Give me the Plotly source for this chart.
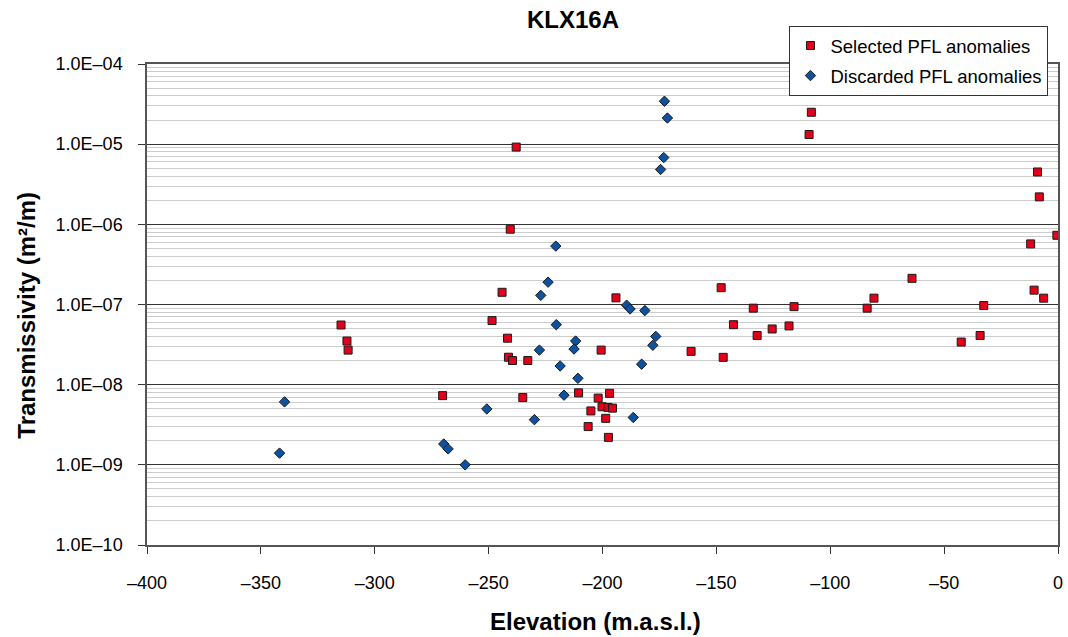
import plotly.graph_objects as go

# ---- data ----
sel_elev = [-314.8, -312.2, -311.7, -270.2, -244.1, -248.5, -241.7, -241.3, -239.5, -232.8,
            -237.9, -240.5, -194.1, -200.6, -161.1, -235.0, -210.5, -196.9, -201.9, -200.2,
            -197.6, -195.6, -205.1, -198.6, -206.3, -197.4, -108.3, -109.3, -9.0, -8.2,
            -0.5, -12.0, -64.1, -147.9, -10.5, -80.8, -6.3, -133.8, -115.9, -83.8,
            -32.6, -142.5, -118.1, -125.5, -132.1, -34.2, -42.5, -147.0]
sel_T = [5.55e-8, 3.5e-8, 2.7e-8, 7.3e-9, 1.42e-7, 6.3e-8, 3.8e-8, 2.2e-8, 2.0e-8, 2.0e-8,
         9.2e-6, 8.7e-7, 1.21e-7, 2.7e-8, 2.6e-8, 6.9e-9, 7.9e-9, 7.8e-9, 6.8e-9, 5.3e-9,
         5.2e-9, 5.1e-9, 4.7e-9, 3.8e-9, 3.0e-9, 2.2e-9, 2.5e-5, 1.32e-5, 4.5e-6, 2.2e-6,
         7.3e-7, 5.7e-7, 2.12e-7, 1.62e-7, 1.51e-7, 1.2e-7, 1.2e-7, 9.0e-8, 9.4e-8, 9.0e-8,
         9.7e-8, 5.6e-8, 5.4e-8, 4.95e-8, 4.1e-8, 4.1e-8, 3.4e-8, 2.19e-8]

dis_elev = [-339.6, -341.8, -269.7, -267.8, -260.3, -220.5, -223.9, -227.1, -189.4, -187.9,
            -181.4, -220.3, -176.6, -211.8, -177.9, -212.5, -227.7, -218.6, -182.8, -210.8,
            -216.9, -250.8, -186.5, -229.9, -172.8, -171.5, -173.1, -174.5]
dis_T = [6.1e-9, 1.40e-9, 1.82e-9, 1.58e-9, 1.0e-9, 5.35e-7, 1.9e-7, 1.3e-7, 9.8e-8, 8.8e-8,
         8.4e-8, 5.6e-8, 4.0e-8, 3.5e-8, 3.1e-8, 2.78e-8, 2.7e-8, 1.71e-8, 1.8e-8, 1.2e-8,
         7.4e-9, 4.98e-9, 3.9e-9, 3.66e-9, 3.43e-5, 2.12e-5, 6.8e-6, 4.83e-6]

x_tickvals = [-400, -350, -300, -250, -200, -150, -100, -50, 0]
x_ticktext = ["\u2013400", "\u2013350", "\u2013300", "\u2013250", "\u2013200",
              "\u2013150", "\u2013100", "\u201350", "0"]
y_tickvals = [1e-10, 1e-9, 1e-8, 1e-7, 1e-6, 1e-5, 1e-4]
y_ticktext = ["1.0E\u201310", "1.0E\u201309", "1.0E\u201308", "1.0E\u201307",
              "1.0E\u201306", "1.0E\u201305", "1.0E\u201304"]
minor_vals = [m * d for d in y_tickvals[:-1] for m in range(2, 10)]

FONT = "Liberation Sans, Arial, sans-serif"

fig = go.Figure()
fig.add_trace(go.Scatter(
    x=sel_elev, y=sel_T, mode="markers", name="Selected PFL anomalies",
    legendgroup="a",
    marker=dict(symbol="square", size=8, color="#e2001a",
                line=dict(color="#1a1a1a", width=1)),
))
fig.add_trace(go.Scatter(
    x=dis_elev, y=dis_T, mode="markers", name="Discarded PFL anomalies",
    legendgroup="b",
    marker=dict(symbol="diamond", size=8, color="#0d52a0",
                line=dict(color="#1a1a1a", width=1)),
))

fig.update_layout(
    width=1068, height=637, autosize=False,
    margin=dict(l=147, r=5, t=64, b=92),
    paper_bgcolor="white", plot_bgcolor="white",
    font=dict(family=FONT, size=18, color="black"),
    showlegend=True,
    legend=dict(
        x=(793 - 147) / 916, y=(545 - 26) / 481, xanchor="left", yanchor="top",
        bgcolor="white", bordercolor="#333333", borderwidth=1,
        font=dict(family=FONT, size=18.5, color="black"),
        tracegroupgap=3,
    ),
    xaxis=dict(
        range=[-400, 0], tickmode="array", tickvals=x_tickvals, ticktext=x_ticktext,
        showgrid=False, zeroline=False, ticks="outside", ticklen=7, tickwidth=1,
        tickcolor="#333333", showline=True, linecolor="#555555", linewidth=1.5,
        mirror=True, ticklabelstandoff=14, tickfont=dict(size=18),
    ),
    yaxis=dict(
        type="log", range=[-10, -4], tickmode="array", tickvals=y_tickvals,
        ticktext=y_ticktext, showgrid=True, gridcolor="#333333", gridwidth=1,
        zeroline=False, ticks="outside", ticklen=7, tickwidth=1, tickcolor="#333333",
        showline=True, linecolor="#555555", linewidth=1.5, mirror=True,
        ticklabelstandoff=12, tickfont=dict(size=18),
        minor=dict(tickmode="array", tickvals=minor_vals, showgrid=True,
                   gridcolor="#cccccc", gridwidth=1, ticks=""),
    ),
    annotations=[
        dict(text="<b>KLX16A</b>", xref="paper", yref="paper",
             x=(575 - 147) / 916, y=(545 - 19) / 481, xanchor="center", yanchor="middle",
             showarrow=False, font=dict(family=FONT, size=24, color="black")),
        dict(text="<b>Elevation (m.a.s.l.)</b>", xref="paper", yref="paper",
             x=(598 - 147) / 916, y=(545 - 621) / 481, xanchor="center", yanchor="middle",
             showarrow=False, font=dict(family=FONT, size=24, color="black")),
        dict(text="<b>Transmissivity (m\u00b2/m)</b>", xref="paper", yref="paper",
             x=(25 - 147) / 916, y=(545 - 315) / 481, xanchor="center", yanchor="middle",
             textangle=-90, showarrow=False,
             font=dict(family=FONT, size=24, color="black")),
    ],
)

fig.write_html("out.html")
